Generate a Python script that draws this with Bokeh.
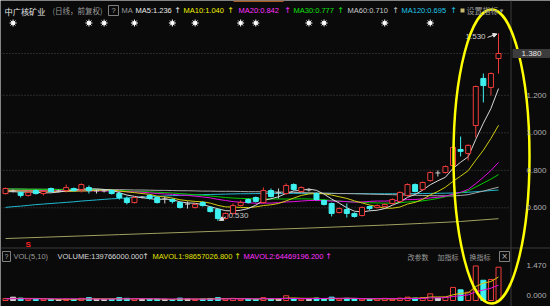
from bokeh.plotting import figure
from bokeh.models import Range1d, Arrow, NormalHead
from bokeh.embed import file_html
from bokeh.resources import INLINE
from bokeh.core.properties import value

# ---------------- data ----------------
stock_name = "中广核矿业"
period_text = "(日线，前复权)"
opens = [0.676, 0.690, 0.682, 0.666, 0.692, 0.676, 0.703, 0.690, 0.692, 0.703,
         0.698, 0.708, 0.690, 0.690, 0.692, 0.676, 0.650, 0.628, 0.657, 0.666,
         0.655, 0.647, 0.644, 0.628, 0.620, 0.602, 0.628, 0.602, 0.591, 0.543,
         0.570, 0.612, 0.644, 0.655, 0.628, 0.692, 0.680, 0.676, 0.724, 0.687,
         0.695, 0.676, 0.639, 0.623, 0.575, 0.591, 0.570, 0.559, 0.607, 0.602,
         0.607, 0.623, 0.634, 0.666, 0.724, 0.698, 0.745, 0.786, 0.788, 0.826,
         0.911, 0.890, 1.039, 1.290, 1.242, 1.396]
highs = [0.708, 0.698, 0.687, 0.687, 0.698, 0.692, 0.708, 0.698, 0.724, 0.708,
         0.730, 0.719, 0.698, 0.698, 0.698, 0.687, 0.660, 0.660, 0.662, 0.671,
         0.660, 0.660, 0.650, 0.634, 0.634, 0.623, 0.634, 0.607, 0.596, 0.575,
         0.623, 0.639, 0.650, 0.660, 0.708, 0.703, 0.703, 0.730, 0.730, 0.714,
         0.703, 0.682, 0.644, 0.628, 0.602, 0.623, 0.575, 0.607, 0.612, 0.618,
         0.623, 0.650, 0.687, 0.730, 0.730, 0.740, 0.794, 0.799, 0.826, 0.933,
         0.980, 0.938, 1.252, 1.316, 1.322, 1.530]
lows = [0.671, 0.682, 0.655, 0.660, 0.671, 0.666, 0.682, 0.682, 0.682, 0.687,
        0.682, 0.676, 0.676, 0.682, 0.671, 0.644, 0.618, 0.623, 0.650, 0.644,
        0.623, 0.623, 0.623, 0.596, 0.596, 0.596, 0.607, 0.575, 0.530, 0.538,
        0.564, 0.607, 0.623, 0.628, 0.623, 0.655, 0.650, 0.671, 0.692, 0.682,
        0.687, 0.639, 0.612, 0.554, 0.570, 0.548, 0.548, 0.554, 0.586, 0.596,
        0.602, 0.618, 0.628, 0.660, 0.682, 0.692, 0.740, 0.767, 0.783, 0.799,
        0.874, 0.852, 0.975, 1.162, 1.199, 1.316]
closes = [0.703, 0.690, 0.666, 0.682, 0.676, 0.687, 0.687, 0.690, 0.708, 0.692,
          0.724, 0.692, 0.690, 0.690, 0.676, 0.655, 0.628, 0.655, 0.657, 0.650,
          0.628, 0.647, 0.634, 0.602, 0.620, 0.618, 0.612, 0.580, 0.543, 0.570,
          0.612, 0.628, 0.628, 0.634, 0.692, 0.660, 0.680, 0.719, 0.698, 0.708,
          0.695, 0.644, 0.618, 0.570, 0.596, 0.570, 0.554, 0.602, 0.596, 0.612,
          0.618, 0.644, 0.682, 0.724, 0.687, 0.735, 0.788, 0.786, 0.820, 0.922,
          0.901, 0.933, 1.247, 1.252, 1.316, 1.423]
# volume in millions of shares
volumes_m = [8, 14, 10, 6, 5, 6, 5, 4, 6, 5,
             9, 12, 5, 4, 5, 12, 9, 7, 4, 5,
             6, 5, 4, 10, 6, 5, 6, 8, 12, 7,
             9, 6, 5, 5, 12, 7, 6, 20, 8, 6,
             5, 10, 8, 14, 6, 9, 7, 6, 5, 8,
             9, 6, 10, 14, 10, 12, 28, 10, 14, 55,
             45, 35, 145, 85, 88.4, 139.766]
ma5 = [0.686, 0.686, 0.684, 0.684, 0.683, 0.680, 0.680, 0.684, 0.690, 0.693,
       0.700, 0.701, 0.701, 0.698, 0.694, 0.681, 0.668, 0.661, 0.654, 0.649,
       0.644, 0.647, 0.643, 0.632, 0.626, 0.624, 0.617, 0.606, 0.595, 0.585,
       0.583, 0.587, 0.596, 0.614, 0.639, 0.648, 0.659, 0.677, 0.690, 0.693,
       0.700, 0.693, 0.673, 0.647, 0.625, 0.600, 0.582, 0.578, 0.584, 0.587,
       0.596, 0.614, 0.630, 0.656, 0.671, 0.694, 0.723, 0.744, 0.763, 0.810,
       0.843, 0.872, 0.965, 1.051, 1.130, 1.236]
ma10 = [0.692, 0.691, 0.690, 0.690, 0.689, 0.689, 0.688, 0.688, 0.688, 0.688,
        0.690, 0.690, 0.693, 0.694, 0.694, 0.690, 0.685, 0.681, 0.676, 0.672,
        0.662, 0.658, 0.652, 0.643, 0.638, 0.634, 0.632, 0.625, 0.613, 0.605,
        0.604, 0.602, 0.601, 0.605, 0.612, 0.616, 0.623, 0.637, 0.652, 0.666,
        0.674, 0.676, 0.675, 0.668, 0.659, 0.650, 0.637, 0.626, 0.615, 0.606,
        0.598, 0.598, 0.604, 0.620, 0.629, 0.645, 0.669, 0.687, 0.710, 0.741,
        0.769, 0.798, 0.854, 0.907, 0.970, 1.040]
ma20 = [0.693, 0.693, 0.692, 0.692, 0.692, 0.692, 0.691, 0.691, 0.691, 0.691,
        0.691, 0.690, 0.690, 0.690, 0.689, 0.688, 0.686, 0.685, 0.683, 0.680,
        0.676, 0.674, 0.672, 0.668, 0.666, 0.662, 0.658, 0.653, 0.645, 0.639,
        0.633, 0.630, 0.627, 0.624, 0.625, 0.625, 0.628, 0.631, 0.633, 0.636,
        0.639, 0.639, 0.638, 0.636, 0.635, 0.633, 0.630, 0.631, 0.634, 0.636,
        0.636, 0.637, 0.640, 0.644, 0.644, 0.648, 0.653, 0.656, 0.662, 0.673,
        0.683, 0.698, 0.729, 0.763, 0.799, 0.842]
ma30 = [0.700, 0.700, 0.700, 0.699, 0.699, 0.698, 0.698, 0.697, 0.697, 0.697,
        0.696, 0.696, 0.695, 0.694, 0.693, 0.692, 0.690, 0.688, 0.687, 0.685,
        0.683, 0.681, 0.679, 0.676, 0.673, 0.670, 0.667, 0.663, 0.659, 0.655,
        0.652, 0.650, 0.649, 0.647, 0.648, 0.647, 0.647, 0.647, 0.647, 0.648,
        0.647, 0.645, 0.643, 0.639, 0.636, 0.633, 0.631, 0.629, 0.627, 0.626,
        0.625, 0.625, 0.627, 0.631, 0.633, 0.637, 0.643, 0.650, 0.659, 0.671,
        0.680, 0.691, 0.711, 0.732, 0.753, 0.777]
ma60 = [0.700, 0.700, 0.700, 0.699, 0.699, 0.699, 0.699, 0.698, 0.698, 0.698,
        0.698, 0.698, 0.697, 0.697, 0.697, 0.697, 0.696, 0.695, 0.695, 0.694,
        0.693, 0.693, 0.692, 0.691, 0.691, 0.690, 0.689, 0.689, 0.688, 0.688,
        0.688, 0.687, 0.686, 0.686, 0.685, 0.684, 0.684, 0.683, 0.682, 0.681,
        0.680, 0.679, 0.678, 0.677, 0.676, 0.676, 0.675, 0.674, 0.673, 0.672,
        0.671, 0.670, 0.669, 0.668, 0.667, 0.666, 0.665, 0.664, 0.664, 0.663,
        0.666, 0.670, 0.680, 0.689, 0.700, 0.710]
ma120 = [0.602, 0.606, 0.609, 0.613, 0.617, 0.620, 0.623, 0.626, 0.629, 0.632,
         0.636, 0.639, 0.642, 0.645, 0.648, 0.650, 0.653, 0.655, 0.657, 0.659,
         0.661, 0.663, 0.665, 0.666, 0.668, 0.669, 0.670, 0.671, 0.672, 0.673,
         0.674, 0.675, 0.675, 0.676, 0.676, 0.676, 0.677, 0.677, 0.677, 0.677,
         0.677, 0.677, 0.677, 0.677, 0.676, 0.676, 0.676, 0.676, 0.675, 0.675,
         0.675, 0.675, 0.675, 0.675, 0.676, 0.676, 0.677, 0.677, 0.678, 0.679,
         0.681, 0.683, 0.686, 0.689, 0.692, 0.695]
ma250_idx = [0, 5, 10, 15, 20, 25, 30, 35, 40, 45, 50, 55, 60, 65]
ma250 = [0.436, 0.443, 0.450, 0.457, 0.464, 0.471, 0.478, 0.485, 0.492,
         0.500, 0.508, 0.517, 0.527, 0.542]
mavol1_m = [8.0, 8.5, 8.8, 8.6, 8.6, 8.2, 6.4, 5.2, 5.2, 5.2,
            5.8, 7.2, 7.4, 7.0, 7.0, 7.6, 7.0, 7.4, 7.4, 7.4,
            6.2, 5.4, 4.8, 6.0, 6.2, 6.0, 6.2, 7.0, 7.4, 7.6,
            8.4, 8.4, 7.8, 6.4, 7.4, 7.0, 7.0, 10.0, 10.6, 9.4,
            9.0, 9.8, 7.4, 8.6, 8.6, 9.4, 8.8, 8.4, 6.6, 7.0,
            7.0, 6.8, 7.6, 9.4, 9.8, 10.4, 14.8, 14.8, 14.8, 23.8,
            30.4, 31.8, 58.8, 73.0, 79.7, 98.657]
mavol2_m = [7.5, 7.6, 7.6, 7.5, 7.4, 7.2, 7.0, 6.9, 6.9, 6.9,
            7.0, 6.8, 6.3, 6.1, 6.1, 6.7, 7.1, 7.4, 7.2, 7.2,
            6.9, 6.2, 6.1, 6.7, 6.8, 6.1, 5.8, 5.9, 6.7, 6.9,
            7.2, 7.3, 7.4, 6.9, 7.5, 7.7, 7.7, 8.9, 8.5, 8.4,
            8.0, 8.4, 8.7, 9.6, 9.0, 9.2, 9.3, 7.9, 7.6, 7.8,
            8.2, 7.8, 8.0, 8.0, 8.4, 8.7, 10.8, 11.2, 12.1, 16.8,
            20.4, 23.3, 36.8, 43.9, 51.7, 64.469]
ma_names = ["MA5", "MA10", "MA20", "MA30", "MA60", "MA120"]
ma_last = [1.236, 1.040, 0.842, 0.777, 0.710, 0.695]
price_ticks = [0.6, 0.8, 1.0, 1.2]
last_price_label = "1.380"
vol_ticks_m = [147.0, 0.0]
vol_header = ["VOLUME:139766000.000", "MAVOL1:98657026.800", "MAVOL2:64469196.200"]
event_idx = [1, 11, 13, 17, 22, 25, 31, 33, 40, 42, 50, 56]
signal_idx = [3]

# ---------------- layout helpers ----------------
W, H = 550, 306
X0, DX = 5.0, 7.585
PY0, PS = 319.8, 187.5
VY0, VS = 300.0, 35.0 / 147.0   # pixels per million shares


def xd(px):
    return (px - X0) / DX


def yd(py):
    return (PY0 - py) / PS


def vd(py):
    return (VY0 - py) / VS   # millions


BG = "#0a0a0a"
RED = "#f03c3c"
CYAN = "#3ff0f0"
WHITE = "#d0d0d0"
LAT = "Liberation Sans"
CJK = "Noto Sans CJK SC"

p = figure(width=W, height=H, x_range=Range1d(xd(0), xd(W)), y_range=Range1d(yd(H), yd(0)),
           output_backend="svg", toolbar_location=None, tools="", min_border=0,
           x_axis_location=None, y_axis_location=None)
p.extra_y_ranges = {"vol": Range1d(vd(H), vd(0))}
p.xgrid.visible = False
p.ygrid.visible = False
p.background_fill_color = BG
p.border_fill_color = BG
p.outline_line_color = None


def txt(px, py, s, color, size="7.5px", font=LAT, align="left", style="normal"):
    p.text(x=[xd(px)], y=[yd(py)], text=[s], text_color=color, text_font=value(font),
           text_font_size=size, text_baseline="middle", text_align=align,
           text_font_style=style)


def box(x0, y0, x1, y1, color="#808080"):
    p.quad(left=[xd(x0)], right=[xd(x1)], top=[yd(y0)], bottom=[yd(y1)],
           fill_color=None, line_color=color, line_width=1)


n = len(closes)
xs = list(range(n))

# frame lines
p.segment(x0=[xd(510.5)], y0=[yd(0)], x1=[xd(510.5)], y1=[yd(H)], line_color="#3a3a3a", line_width=1)
p.segment(x0=[xd(0)], y0=[yd(247.5)], x1=[xd(W)], y1=[yd(247.5)], line_color="#3a3a3a", line_width=1)
p.quad(left=[xd(233)], right=[xd(283)], top=[yd(0)], bottom=[yd(1.5)], fill_color="#a85a20", line_color=None)

# grid (dotted)
for t in price_ticks + [closes[-1]]:
    p.segment(x0=[xd(0)], y0=[t], x1=[xd(510)], y1=[t], line_color="#4a4a4a",
              line_dash="1 2", line_width=1)

# moving averages
p.line(ma250_idx, ma250, line_color="#a0a060", line_width=1)
p.line(xs, ma120, line_color="#20b8d0", line_width=1)
p.line(xs, ma60, line_color="#a8a8a8", line_width=1)
p.line(xs, ma30, line_color="#00c800", line_width=1)
p.line(xs, ma20, line_color="#e010e0", line_width=1)
p.line(xs, ma10, line_color="#d0cc10", line_width=1)
p.line(xs, ma5, line_color="#d8d8d8", line_width=1)

# candles
cols, fills = [], []
for o, c in zip(opens, closes):
    if c > o:
        cols.append(RED); fills.append(BG)
    elif c < o:
        cols.append(CYAN); fills.append(CYAN)
    else:
        cols.append(WHITE); fills.append(WHITE)
p.segment(x0=xs, y0=highs, x1=xs, y1=lows, line_color=cols, line_width=1)
bw = 5.0 / DX
top = [max(o, c) for o, c in zip(opens, closes)]
bot = [min(o, c) for o, c in zip(opens, closes)]
body_i = [i for i in xs if opens[i] != closes[i]]
doji_i = [i for i in xs if opens[i] == closes[i]]
p.vbar(x=body_i, width=bw, top=[top[i] for i in body_i], bottom=[bot[i] for i in body_i],
       fill_color=[fills[i] for i in body_i], line_color=[cols[i] for i in body_i], line_width=1)
p.segment(x0=[i - bw / 2 for i in doji_i], y0=[closes[i] for i in doji_i],
          x1=[i + bw / 2 for i in doji_i], y1=[closes[i] for i in doji_i],
          line_color=WHITE, line_width=1)

# volume bars (millions)
p.vbar(x=xs, width=bw, top=volumes_m, bottom=0, fill_color=fills, line_color=cols,
       line_width=1, y_range_name="vol")
p.line(xs, mavol1_m, line_color="#d8c800", line_width=1, y_range_name="vol")
p.line(xs, mavol2_m, line_color="#e010e0", line_width=1, y_range_name="vol")

# event markers and signals
p.scatter(x=event_idx, y=[yd(22.5)] * len(event_idx), marker="asterisk", size=7,
          line_color="#ffffff", line_width=1)
p.scatter(x=event_idx, y=[yd(22.5)] * len(event_idx), marker="circle", size=4,
          fill_color="#ffffff", line_color=None)
for s in signal_idx:
    p.text(x=[s], y=[yd(244)], text=["S"], text_color="#ff2020", text_font=value(LAT),
           text_font_size="8px", text_font_style="bold", text_baseline="middle", text_align="center")

# high / low annotations
hi_i = max(xs, key=lambda i: highs[i])
lo_i = min(xs, key=lambda i: lows[i])
p.add_layout(Arrow(end=NormalHead(size=4, fill_color="#e0e0e0", line_color="#e0e0e0"),
                   x_start=hi_i - 11 / DX, y_start=highs[hi_i] - 4 / PS,
                   x_end=hi_i - 1.5 / DX, y_end=highs[hi_i] - 0.5 / PS,
                   line_color="#e0e0e0", line_width=1))
p.text(x=[hi_i - 13 / DX], y=[highs[hi_i] - 3.5 / PS], text=[f"{highs[hi_i]:.3f}"],
       text_color="#d0d0d0", text_font=value(LAT), text_font_size="8px",
       text_baseline="middle", text_align="right")
p.add_layout(Arrow(end=NormalHead(size=4, fill_color="#e0e0e0", line_color="#e0e0e0"),
                   x_start=lo_i + 8 / DX, y_start=lows[lo_i] + 4 / PS,
                   x_end=lo_i + 1.5 / DX, y_end=lows[lo_i] + 0.5 / PS,
                   line_color="#e0e0e0", line_width=1))
p.text(x=[lo_i + 10.5 / DX], y=[lows[lo_i] + 5.5 / PS], text=[f"{lows[lo_i]:.3f}"],
       text_color="#c8c8c8", text_font=value(LAT), text_font_size="8px",
       text_baseline="middle", text_align="left")

# highlight ellipse
p.ellipse(x=[xd(491)], y=[yd(156)], width=76 / DX, height=294 / PS, fill_color=None,
          line_color="#ffff00", line_width=2.5)

# right price axis labels
for t in price_ticks:
    p.text(x=[xd(526)], y=[t], text=[f"{t:.3f}"], text_color="#b0b0b0", text_font=value(LAT),
           text_font_size="8px", text_baseline="middle", text_align="left")
p.quad(left=[xd(512)], right=[xd(W)], top=[closes[-1] + 4.5 / PS], bottom=[closes[-1] - 4.5 / PS],
       fill_color="#3c3c3c", line_color=None)
p.text(x=[xd(531)], y=[closes[-1]], text=[last_price_label], text_color="#e8e8e8",
       text_font=value(LAT), text_font_size="8px", text_baseline="middle", text_align="center")
for t in vol_ticks_m:
    p.text(x=[xd(526)], y=[max(t, 5 / VS)], text=[f"{t / 100:.3f}"], text_color="#b0b0b0",
           text_font=value(LAT), text_font_size="8px", text_baseline="middle", text_align="left",
           y_range_name="vol")

# header
txt(4, 10, stock_name, "#e6e6e6", "8.2px", CJK)
txt(52, 10, period_text, "#9a9a9a", "7.5px", CJK)
box(108, 5, 118, 15)
txt(113, 10, "?", "#b0b0b0", "7.5px", LAT, "center")
txt(121, 10, "MA", "#9a9a9a")
ma_cols = ["#e8e8e8", "#f0f000", "#ff30ff", "#10e010", "#c8c8c8", "#20c8e8"]
ma_x = [135, 183, 238, 293, 347, 401]
ar_x = [177, 230, 287, 340, 395, 453]
for nm, v, c, x0, ax in zip(ma_names, ma_last, ma_cols, ma_x, ar_x):
    txt(x0, 10, f"{nm}:{v:.3f}", c)
    txt(ax, 10, "↑", c, "8px", "DejaVu Sans", "center")
p.quad(left=[xd(460)], right=[xd(464)], top=[yd(8)], bottom=[yd(12)], fill_color="#c8b870", line_color=None)
txt(466, 10, "设置指标", "#9a9a9a", "8px", CJK)
txt(501, 10, "▾", "#9a9a9a", "7px", "DejaVu Sans", "center")

# volume header
box(2, 251, 10, 261)
txt(6, 256, "?", "#b0b0b0", "7px", LAT, "center")
txt(13, 256, "VOL(5,10)", "#9a9a9a")
vh_cols = ["#d8d8d8", "#e0e000", "#ff30ff"]
vh_x = [57, 152, 243]
va_x = [145, 237, 328]
for s, c, x0, ax in zip(vol_header, vh_cols, vh_x, va_x):
    txt(x0, 256, s, c)
    txt(ax, 256, "↑", c, "8px", "DejaVu Sans", "center")
txt(407, 256, "改参数", "#9a9a9a", "7px", CJK)
txt(437, 256, "加指标", "#9a9a9a", "7px", CJK)
txt(469, 256, "换指标", "#9a9a9a", "7px", CJK)
box(499, 251, 509, 261)
txt(504, 256, "×", "#b0b0b0", "8px", "DejaVu Sans", "center")

open("out.html", "w").write(file_html(p, INLINE))
